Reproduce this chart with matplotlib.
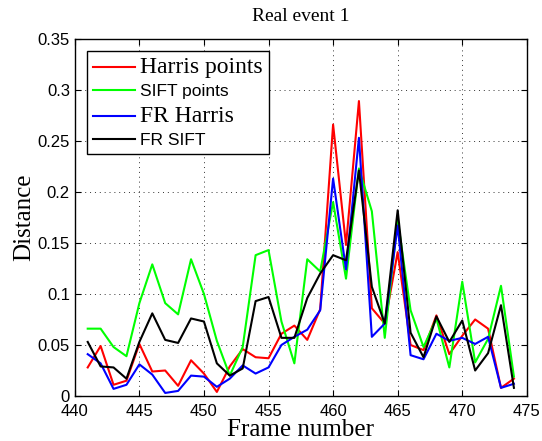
import matplotlib
matplotlib.use("Agg")
import matplotlib.pyplot as plt

frames = list(range(441, 475))

harris_pts = [0.028, 0.049, 0.011, 0.015, 0.051, 0.024, 0.025, 0.010, 0.035, 0.022,
              0.004, 0.029, 0.046, 0.038, 0.037, 0.061, 0.069, 0.055, 0.085, 0.266,
              0.148, 0.289, 0.086, 0.071, 0.141, 0.050, 0.045, 0.079, 0.041, 0.059,
              0.075, 0.066, 0.008, 0.017]
sift_pts = [0.066, 0.066, 0.048, 0.039, 0.091, 0.129, 0.091, 0.080, 0.134, 0.100,
            0.054, 0.020, 0.048, 0.138, 0.143, 0.073, 0.032, 0.134, 0.122, 0.190,
            0.115, 0.223, 0.181, 0.057, 0.173, 0.084, 0.048, 0.076, 0.028, 0.112,
            0.033, 0.056, 0.108, 0.019]
fr_harris = [0.041, 0.032, 0.007, 0.011, 0.031, 0.021, 0.003, 0.005, 0.020, 0.019,
             0.009, 0.017, 0.030, 0.022, 0.028, 0.050, 0.058, 0.065, 0.084, 0.213,
             0.124, 0.253, 0.058, 0.071, 0.167, 0.040, 0.036, 0.061, 0.054, 0.057,
             0.051, 0.058, 0.008, 0.012]
fr_sift = [0.053, 0.029, 0.028, 0.017, 0.053, 0.081, 0.055, 0.052, 0.076, 0.073,
           0.032, 0.020, 0.027, 0.093, 0.097, 0.057, 0.057, 0.096, 0.120, 0.138,
           0.133, 0.221, 0.107, 0.071, 0.182, 0.062, 0.038, 0.078, 0.053, 0.074,
           0.025, 0.042, 0.089, 0.008]

x_ticks = [440, 445, 450, 455, 460, 465, 470, 475]
y_ticks = [0, 0.05, 0.1, 0.15, 0.2, 0.25, 0.3, 0.35]
y_tick_labels = ["0", "0.05", "0.1", "0.15", "0.2", "0.25", "0.3", "0.35"]

series = [
    ("Harris points", harris_pts, "#ff0000"),
    ("SIFT points", sift_pts, "#00ff00"),
    ("FR Harris", fr_harris, "#0000ff"),
    ("FR SIFT", fr_sift, "#000000"),
]
serif = "Liberation Serif"
sans = "Liberation Sans"
# matlab-style legend mixes serif and sans labels
label_fonts = [(serif, 17), (sans, 12.5), (serif, 17), (sans, 12.5)]

fig = plt.figure(figsize=(5.42, 4.41), dpi=100)
ax = fig.add_axes([0.138, 0.102, 0.834, 0.81])

for name, vals, col in series:
    ax.plot(frames, vals, color=col, lw=1.5, label=name)

ax.set_xticks(x_ticks)
ax.set_xticklabels([str(t) for t in x_ticks])
ax.set_yticks(y_ticks)
ax.set_yticklabels(y_tick_labels)
ax.set_xlim(440, 475)
ax.set_ylim(0, 0.35)
ax.tick_params(direction="in", top=True, right=True, length=4, width=0.8,
               labelsize=12)
ax.tick_params(axis="x", pad=6)
for lab in ax.get_xticklabels() + ax.get_yticklabels():
    lab.set_fontfamily(sans)
ax.grid(True, linestyle=(0, (1, 4)), color="black", lw=0.7, alpha=0.8)
for sp in ax.spines.values():
    sp.set_linewidth(1.0)

ax.set_title("Real event 1", fontfamily=serif, fontsize=14, pad=13)
ax.set_xlabel("Frame number", fontfamily=serif, fontsize=18, labelpad=0)
ax.set_ylabel("Distance", fontfamily=serif, fontsize=18, labelpad=2)

leg = ax.legend(loc="upper left", bbox_to_anchor=(0.027, 0.966), borderaxespad=0,
                fontsize=12.5, handlelength=2.4, handletextpad=0.3,
                labelspacing=0.36, borderpad=0.35, fancybox=False,
                edgecolor="black", framealpha=1)
leg.get_frame().set_linewidth(1.0)
for txt, (fam, sz) in zip(leg.get_texts(), label_fonts):
    txt.set_fontfamily(fam)
    txt.set_fontsize(sz)

fig.savefig("out.png", dpi=100)
